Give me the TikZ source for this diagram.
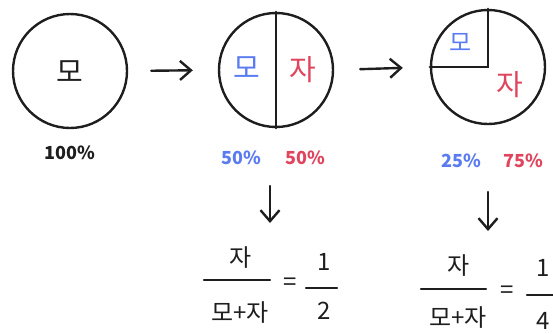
\documentclass[tikz,border=0pt]{standalone}
\usepackage{fontspec}
\setmainfont{Noto Sans CJK KR}
\usetikzlibrary{arrows.meta}
\definecolor{mblue}{HTML}{5B7BF0}
\definecolor{mred}{HTML}{E0455E}
\definecolor{ink}{HTML}{1E1E1E}
\tikzset{
  ring/.style={circle, draw=ink, line width=2.4pt, minimum size=114pt, inner sep=0pt},
  ln/.style={draw=ink, line width=2.4pt, line cap=round},
  arr/.style={ln, -{Straight Barb[length=11pt,width=19pt,line width=2.4pt]}},
  big/.style={font=\fontsize{29}{30}\selectfont, inner sep=0pt},
  pct/.style={font=\fontsize{18}{19}\selectfont\bfseries, inner sep=0pt},
  frc/.style={font=\fontsize{24}{25}\selectfont, inner sep=0pt, text=ink},
}
\begin{document}
\begin{tikzpicture}[x=1pt,y=-1pt]
\useasboundingbox (0,0) rectangle (553,333);
% circles
\node[ring] (c1) at (70,71) {};
\node[ring] (c2) at (276,70) {};
\node[ring] (c3) at (488,67) {};
% texts in circles
\node[big, text=ink] (t1) at (70,72) {모};
\node[big, text=mblue] (t2a) at (247,68) {모};
\node[big, text=mred] (t2b) at (303,70) {자};
\node[big, font=\fontsize{24}{25}\selectfont, text=mblue] (t3a) at (461,42) {모};
\node[big, text=mred] (t3b) at (510,85) {자};
% dividers
\draw[ln] (c2.north) -- (c2.south);
\draw[ln] (c3.north) -- (c3.center) -- (c3.west);
% horizontal arrows
\draw[arr, shorten <=23pt, shorten >=25pt] (c1.east) -- (c2.west);
\draw[arr, shorten <=26pt, shorten >=27pt] (c2.east) -- (c3.west);
% percentages
\node[pct, text=ink] (p1) at (70,153) {100\%};
\node[pct, text=mblue] (p2a) at (241,158) {50\%};
\node[pct, text=mred] (p2b) at (305,158) {50\%};
\node[pct, text=mblue] (p3a) at (461,161) {25\%};
\node[pct, text=mred] (p3b) at (523,161) {75\%};
% down arrows
\coordinate (d1s) at (270,186);
\coordinate (d1e) at (270,223);
\coordinate (d2s) at (488,192);
\coordinate (d2e) at (488,231);
\draw[arr] (d1s) -- (d1e);
\draw[arr] (d2s) -- (d2e);
% fraction 1
\node[frc] (n1) at (241,258) {자};
\coordinate (b1l) at (204,280);
\coordinate (b1r) at (270,280);
\draw[ln] (b1l) -- (b1r);
\node[frc] (m1) at (240,313) {모+자};
\node[frc] (e1) at (290,284) {=};
\node[frc] (o1) at (324,262) {1};
\coordinate (q1l) at (306,288);
\coordinate (q1r) at (337,288);
\draw[ln] (q1l) -- (q1r);
\node[frc] (h1) at (324,311) {2};
% fraction 2
\node[frc] (n2) at (459,266) {자};
\coordinate (b2l) at (421,289);
\coordinate (b2r) at (486,289);
\draw[ln] (b2l) -- (b2r);
\node[frc] (m2) at (458,318) {모+자};
\node[frc] (e2) at (507,292) {=};
\node[frc] (o2) at (543,268) {1};
\coordinate (q2l) at (527,295);
\coordinate (q2r) at (556,295);
\draw[ln] (q2l) -- (q2r);
\node[frc] (h2) at (543,321) {4};
\end{tikzpicture}
\end{document}
